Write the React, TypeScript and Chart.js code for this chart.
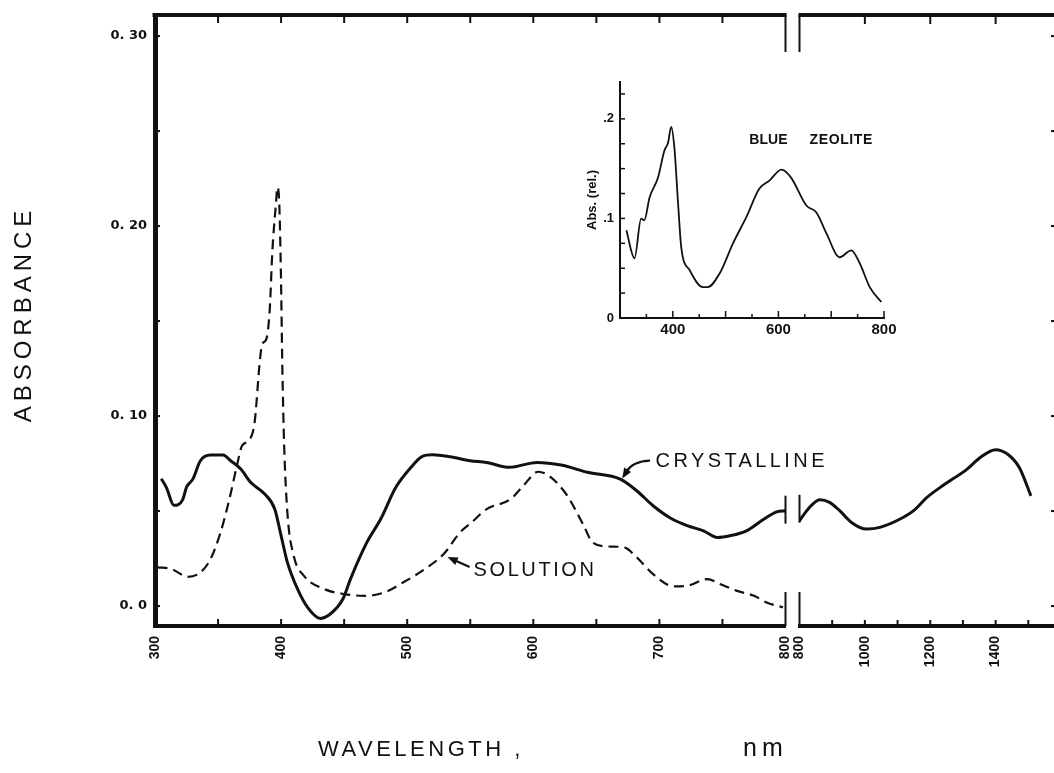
import React, { useEffect, useRef } from 'react';
import { Chart, registerables } from 'chart.js';

Chart.register(...registerables);

const INK = '#111111';

// ---------------- data ----------------
// Crystalline sample, visible part (nm / absorbance)
const CRYSTAL_VIS_NM = [305, 309, 315, 322, 325, 330, 336, 344, 354, 360, 368, 376, 387, 395, 400, 405, 413, 421, 431, 439, 449, 455, 468, 479, 491, 503, 512, 520, 534, 550, 563, 581, 603, 622, 643, 669, 682, 695, 709, 722, 735, 746, 756, 769, 783, 793, 800];
const CRYSTAL_VIS_ABS = [0.067, 0.0625, 0.053, 0.056, 0.0626, 0.0668, 0.0765, 0.0795, 0.0795, 0.0765, 0.0721, 0.065, 0.059, 0.051, 0.037, 0.023, 0.009, -0.0007, -0.0065, -0.0042, 0.0037, 0.0142, 0.0335, 0.0458, 0.0625, 0.073, 0.0788, 0.0796, 0.0786, 0.0765, 0.0756, 0.073, 0.0756, 0.0742, 0.0704, 0.0668, 0.0607, 0.0528, 0.0462, 0.0423, 0.0396, 0.0361, 0.037, 0.0396, 0.0458, 0.0496, 0.0502];

// Crystalline sample, near-IR part
const CRYSTAL_NIR_NM = [800, 826, 862, 892, 923, 959, 1005, 1046, 1108, 1149, 1190, 1241, 1313, 1354, 1400, 1436, 1472, 1508];
const CRYSTAL_NIR_ABS = [0.0449, 0.051, 0.056, 0.0546, 0.0502, 0.044, 0.0405, 0.0414, 0.0458, 0.0502, 0.0572, 0.0637, 0.0721, 0.0783, 0.0823, 0.08, 0.073, 0.058];

// Solution spectrum
const SOLUTION_NM = [302, 313, 326, 336, 344, 352, 359, 365, 369, 374, 379, 383, 385, 388, 391, 393, 396, 397, 398.4, 399.8, 401, 402.4, 405, 410, 418, 434, 450, 466, 482, 497, 516, 529, 542, 551, 563, 582, 592, 604, 614, 627, 640, 647, 658, 672, 682, 695, 711, 722, 738, 748, 761, 775, 785, 798];
const SOLUTION_ABS = [0.0204, 0.0195, 0.0154, 0.0177, 0.0247, 0.0388, 0.0563, 0.074, 0.0844, 0.087, 0.0967, 0.128, 0.138, 0.14, 0.156, 0.186, 0.2125, 0.2204, 0.214, 0.177, 0.125, 0.085, 0.049, 0.0265, 0.016, 0.009, 0.0063, 0.0054, 0.0072, 0.0125, 0.0204, 0.0274, 0.0388, 0.044, 0.051, 0.0563, 0.0633, 0.0707, 0.0677, 0.058, 0.0423, 0.0335, 0.0314, 0.0309, 0.0256, 0.0168, 0.0104, 0.0107, 0.0142, 0.0116, 0.0081, 0.0054, 0.0019, -0.0007];

// Inset: blue zeolite (relative absorbance)
const INSET_NM = [312, 327.5, 340, 346, 356, 372, 384, 391, 397, 403, 410, 416, 432, 457, 466, 489, 514, 539, 564, 583, 606, 624, 653, 672, 691, 716, 738, 754, 773, 795];
const INSET_ABS = [0.088, 0.06, 0.0997, 0.098, 0.121, 0.141, 0.168, 0.176, 0.192, 0.171, 0.115, 0.071, 0.048, 0.031, 0.031, 0.045, 0.075, 0.101, 0.13, 0.138, 0.149, 0.141, 0.113, 0.106, 0.085, 0.061, 0.068, 0.055, 0.031, 0.016];

// ---------------- ticks ----------------
const X_VIS_TICKS = [300, 350, 400, 450, 500, 550, 600, 650, 700, 750, 800];
const X_VIS_LABELED = [300, 400, 500, 600, 700, 800];
const X_NIR_TICKS = [800, 900, 1000, 1100, 1200, 1300, 1400, 1500, 1600];
const X_NIR_LABELED = [800, 1000, 1200, 1400, 1600];
const X_NIR_TOP_TICKS = [1000, 1200, 1400];
const Y_TICKS = [0, 0.05, 0.1, 0.15, 0.2, 0.25, 0.3];
const Y_LABELED = [0, 0.1, 0.2, 0.3];
const Y_LABELS = ['0. 0', '0. 10', '0. 20', '0. 30'];

const INSET_X_TICKS = [300, 350, 400, 450, 500, 550, 600, 650, 700, 750, 800];
const INSET_X_LABELED = [400, 600, 800];
const INSET_Y_TICKS = [0, 0.025, 0.05, 0.075, 0.1, 0.125, 0.15, 0.175, 0.2, 0.225];
const INSET_Y_LABELED = [0, 0.1, 0.2];
const INSET_Y_LABELS = ['0', '.1', '.2'];

// ---------------- helpers ----------------
const near = (a: number, b: number) => Math.abs(a - b) < 1e-6;
const toPoints = (xs: number[], ys: number[]) => xs.map((x, i) => ({ x, y: ys[i] }));

function seg(ctx: CanvasRenderingContext2D, x1: number, y1: number, x2: number, y2: number) {
  ctx.beginPath();
  ctx.moveTo(x1, y1);
  ctx.lineTo(x2, y2);
  ctx.stroke();
}

function setSpacing(ctx: CanvasRenderingContext2D, px: number) {
  const c = ctx as any;
  if ('letterSpacing' in c) c.letterSpacing = `${px}px`;
}

function arrow(ctx: CanvasRenderingContext2D, x0: number, y0: number, cx: number, cy: number, x1: number, y1: number, head: number) {
  const ang = Math.atan2(y1 - cy, x1 - cx);
  const ex = x1 - Math.cos(ang) * head * 0.7;
  const ey = y1 - Math.sin(ang) * head * 0.7;
  ctx.beginPath();
  ctx.moveTo(x0, y0);
  ctx.quadraticCurveTo(cx, cy, ex, ey);
  ctx.stroke();
  ctx.beginPath();
  ctx.moveTo(x1, y1);
  ctx.lineTo(x1 - head * Math.cos(ang - 0.38), y1 - head * Math.sin(ang - 0.38));
  ctx.lineTo(x1 - head * Math.cos(ang + 0.38), y1 - head * Math.sin(ang + 0.38));
  ctx.closePath();
  ctx.fill();
}

// annotation anchors in data units (nm, absorbance)
const CRYSTAL_NOTE = { text: 'CRYSTALLINE', nm: 697, abs: 0.0732 };
const CRYSTAL_ARROW = { tail: [692.5, 0.0765], ctrl: [679, 0.0762], tip: [670.5, 0.0672] };
const SOLUTION_NOTE = { text: 'SOLUTION', nm: 552.6, abs: 0.0158 };
const SOLUTION_ARROW = { tail: [549.5, 0.0205], tip: [532, 0.0258] };

const mainDecor = {
  id: 'mainDecor',
  afterDraw(chart: any) {
    const { ctx, chartArea } = chart;
    const xv = chart.scales.x;
    const xn = chart.scales.x2;
    const y = chart.scales.y;
    const top = chartArea.top;
    const bottom = chartArea.bottom;
    ctx.save();
    ctx.strokeStyle = INK;
    ctx.fillStyle = INK;
    ctx.lineCap = 'butt';

    // top frame (broken) and right frame
    ctx.lineWidth = 4;
    seg(ctx, xv.left - 2.5, top, xv.right + 1, top);
    seg(ctx, xn.left - 1, top, xn.right + 2, top);
    seg(ctx, xn.right, top - 2, xn.right, bottom + 2);

    // axis-break bars
    ctx.lineWidth = 2;
    seg(ctx, xv.right, top, xv.right, top + 37);
    seg(ctx, xn.left, top, xn.left, top + 37);
    seg(ctx, xv.right, bottom - 34, xv.right, bottom);
    seg(ctx, xn.left, bottom - 34, xn.left, bottom);

    // inward ticks
    ctx.lineWidth = 2;
    for (const v of X_VIS_TICKS) {
      if (v === 300 || v === 800) continue;
      const px = xv.getPixelForValue(v);
      seg(ctx, px, bottom, px, bottom - 7);
      seg(ctx, px, top, px, top + 8);
    }
    for (const v of X_NIR_TICKS) {
      if (v === 800 || v === 1600) continue;
      const px = xn.getPixelForValue(v);
      seg(ctx, px, bottom, px, bottom - 6);
    }
    for (const v of X_NIR_TOP_TICKS) {
      const px = xn.getPixelForValue(v);
      seg(ctx, px, top, px, top + 9);
    }
    for (const v of Y_TICKS) {
      const py = y.getPixelForValue(v);
      seg(ctx, chartArea.left, py, chartArea.left + 5, py);
      seg(ctx, xn.right, py, xn.right - 10, py);
    }

    // curve break markers
    const li = CRYSTAL_VIS_NM.length - 1;
    const lx = xv.getPixelForValue(CRYSTAL_VIS_NM[li]);
    const ly = y.getPixelForValue(CRYSTAL_VIS_ABS[li]);
    seg(ctx, lx, ly - 15, lx, ly + 13);
    const rx = xn.getPixelForValue(CRYSTAL_NIR_NM[0]);
    const ry = y.getPixelForValue(CRYSTAL_NIR_ABS[0]);
    seg(ctx, rx, ry - 26, rx, ry + 2);

    // annotations
    ctx.font = '20px "Liberation Sans"';
    ctx.textAlign = 'left';
    ctx.textBaseline = 'alphabetic';
    setSpacing(ctx, 3.4);
    ctx.fillText(CRYSTAL_NOTE.text, xv.getPixelForValue(CRYSTAL_NOTE.nm), y.getPixelForValue(CRYSTAL_NOTE.abs));
    setSpacing(ctx, 2.6);
    ctx.fillText(SOLUTION_NOTE.text, xv.getPixelForValue(SOLUTION_NOTE.nm), y.getPixelForValue(SOLUTION_NOTE.abs));
    setSpacing(ctx, 0);
    ctx.lineWidth = 2.2;
    const P = (p: number[]) => [xv.getPixelForValue(p[0]), y.getPixelForValue(p[1])];
    const [ax0, ay0] = P(CRYSTAL_ARROW.tail);
    const [acx, acy] = P(CRYSTAL_ARROW.ctrl);
    const [ax1, ay1] = P(CRYSTAL_ARROW.tip);
    arrow(ctx, ax0, ay0, acx, acy, ax1, ay1, 11);
    const [bx0, by0] = P(SOLUTION_ARROW.tail);
    const [bx1, by1] = P(SOLUTION_ARROW.tip);
    arrow(ctx, bx0, by0, (bx0 + bx1) / 2, (by0 + by1) / 2, bx1, by1, 11);

    // axis titles
    ctx.save();
    ctx.translate(24, (top + bottom) / 2 - 4);
    ctx.rotate(-Math.PI / 2);
    ctx.font = '24px "Liberation Sans"';
    ctx.textAlign = 'center';
    ctx.textBaseline = 'middle';
    setSpacing(ctx, 5);
    ctx.fillText('ABSORBANCE', 2.5, 0);
    ctx.restore();

    ctx.font = '22px "Liberation Sans"';
    ctx.textAlign = 'left';
    ctx.textBaseline = 'alphabetic';
    setSpacing(ctx, 3.5);
    ctx.fillText('WAVELENGTH ,', 318, 756);
    ctx.font = '25px "Liberation Sans"';
    setSpacing(ctx, 5);
    ctx.fillText('nm', 743, 756);
    setSpacing(ctx, 0);
    ctx.restore();
  },
};

const insetDecor = {
  id: 'insetDecor',
  afterDraw(chart: any) {
    const { ctx, chartArea } = chart;
    const xs = chart.scales.x;
    const ys = chart.scales.y;
    ctx.save();
    ctx.strokeStyle = INK;
    ctx.fillStyle = INK;
    ctx.lineWidth = 1.5;
    for (const v of INSET_X_TICKS) {
      if (v === 300) continue;
      const px = xs.getPixelForValue(v);
      const len = v % 100 === 0 ? 7 : 4;
      seg(ctx, px, chartArea.bottom, px, chartArea.bottom - len);
    }
    for (const v of INSET_Y_TICKS) {
      if (v === 0) continue;
      const py = ys.getPixelForValue(v);
      seg(ctx, chartArea.left, py, chartArea.left + 5, py);
    }
    ctx.font = 'bold 14px "Liberation Sans"';
    ctx.textAlign = 'left';
    ctx.textBaseline = 'alphabetic';
    ctx.fillText('BLUE', xs.getPixelForValue(545), ys.getPixelForValue(0.175));
    setSpacing(ctx, 0.6);
    ctx.fillText('ZEOLITE', xs.getPixelForValue(659), ys.getPixelForValue(0.175));
    setSpacing(ctx, 0);
    ctx.restore();
  },
};

const tickFontX = { family: '"Liberation Sans", Arial, sans-serif', size: 14, weight: 'bold' as const };

// keep the wavelength axes from reserving extra side padding for their rotated labels
const fixBottomAxis = (s: any) => {
  s.height = 60;
  s.paddingLeft = 0;
  s.paddingRight = 0;
};

function mainConfig(): any {
  const xCommon = {
    type: 'linear',
    position: 'bottom',
    stack: 'wavelength',
    grid: { display: false, drawTicks: false },
    border: { display: true, width: 4, color: INK },
    afterFit: fixBottomAxis,
  };
  return {
    type: 'line',
    data: {
      datasets: [
        {
          label: 'Crystalline',
          data: toPoints(CRYSTAL_VIS_NM, CRYSTAL_VIS_ABS),
          xAxisID: 'x',
          yAxisID: 'y',
          borderColor: INK,
          borderWidth: 3,
          pointRadius: 0,
          fill: false,
          cubicInterpolationMode: 'monotone',
        },
        {
          label: 'Crystalline (near IR)',
          data: toPoints(CRYSTAL_NIR_NM, CRYSTAL_NIR_ABS),
          xAxisID: 'x2',
          yAxisID: 'y',
          borderColor: INK,
          borderWidth: 3,
          pointRadius: 0,
          fill: false,
          cubicInterpolationMode: 'monotone',
        },
        {
          label: 'Solution',
          data: toPoints(SOLUTION_NM, SOLUTION_ABS),
          xAxisID: 'x',
          yAxisID: 'y',
          borderColor: INK,
          borderWidth: 2.2,
          borderDash: [10, 6],
          pointRadius: 0,
          fill: false,
          cubicInterpolationMode: 'monotone',
        },
      ],
    },
    options: {
      responsive: false,
      animation: false,
      devicePixelRatio: 1,
      events: [],
      layout: { padding: { left: 0, top: 15, right: 14, bottom: 87 } },
      plugins: { legend: { display: false }, tooltip: { enabled: false }, title: { display: false } },
      scales: {
        x: {
          ...xCommon,
          stackWeight: 630.5,
          min: 300,
          max: 800,
          afterBuildTicks: (s: any) => {
            s.ticks = X_VIS_TICKS.map((v) => ({ value: v }));
          },
          ticks: {
            autoSkip: false,
            minRotation: 90,
            maxRotation: 90,
            padding: 10,
            color: INK,
            font: tickFontX,
            callback: (v: any) => (X_VIS_LABELED.some((t) => near(t, Number(v))) ? String(v) : ''),
          },
        },
        xgap: {
          type: 'linear',
          position: 'bottom',
          stack: 'wavelength',
          stackWeight: 14,
          min: 0,
          max: 1,
          grid: { display: false, drawTicks: false },
          border: { display: false },
          ticks: { display: false },
          afterFit: fixBottomAxis,
        },
        x2: {
          ...xCommon,
          stackWeight: 261.5,
          min: 800,
          max: 1600,
          afterBuildTicks: (s: any) => {
            s.ticks = X_NIR_TICKS.map((v) => ({ value: v }));
          },
          ticks: {
            autoSkip: false,
            minRotation: 90,
            maxRotation: 90,
            padding: 10,
            color: INK,
            font: tickFontX,
            callback: (v: any) => (X_NIR_LABELED.some((t) => near(t, Number(v))) ? String(v) : ''),
          },
        },
        y: {
          type: 'linear',
          position: 'left',
          min: -0.0105,
          max: 0.3111,
          grid: { display: false, drawTicks: false },
          border: { display: true, width: 5, color: INK },
          afterBuildTicks: (s: any) => {
            s.ticks = Y_TICKS.map((v) => ({ value: v }));
          },
          afterFit: (s: any) => {
            s.width = 155;
            s.paddingTop = 0;
            s.paddingBottom = 0;
          },
          ticks: {
            autoSkip: false,
            padding: 8,
            color: INK,
            font: { family: '"DejaVu Sans", sans-serif', size: 13, weight: 'bold' },
            callback: (v: any) => {
              const i = Y_LABELED.findIndex((t) => near(t, Number(v)));
              return i >= 0 ? Y_LABELS[i] : '';
            },
          },
        },
      },
    },
    plugins: [mainDecor],
  };
}

function insetConfig(): any {
  return {
    type: 'line',
    data: {
      datasets: [
        {
          label: 'Blue zeolite',
          data: toPoints(INSET_NM, INSET_ABS),
          borderColor: INK,
          borderWidth: 1.8,
          pointRadius: 0,
          fill: false,
          cubicInterpolationMode: 'monotone',
        },
      ],
    },
    options: {
      responsive: false,
      animation: false,
      devicePixelRatio: 1,
      events: [],
      layout: { padding: { left: 0, top: 12, right: 16, bottom: 10 } },
      plugins: { legend: { display: false }, tooltip: { enabled: false } },
      scales: {
        x: {
          type: 'linear',
          min: 300,
          max: 800,
          grid: { display: false, drawTicks: false },
          border: { display: true, width: 2, color: INK },
          afterBuildTicks: (s: any) => {
            s.ticks = INSET_X_TICKS.map((v) => ({ value: v }));
          },
          afterFit: (s: any) => {
            s.height = 22;
            s.paddingLeft = 0;
            s.paddingRight = 0;
          },
          ticks: {
            autoSkip: false,
            maxRotation: 0,
            minRotation: 0,
            padding: 3,
            color: INK,
            font: { family: '"Liberation Sans", Arial, sans-serif', size: 15, weight: 'bold' },
            callback: (v: any) => (INSET_X_LABELED.some((t) => near(t, Number(v))) ? String(v) : ''),
          },
        },
        y: {
          type: 'linear',
          min: 0,
          max: 0.237,
          grid: { display: false, drawTicks: false },
          border: { display: true, width: 2, color: INK },
          afterBuildTicks: (s: any) => {
            s.ticks = INSET_Y_TICKS.map((v) => ({ value: v }));
          },
          afterFit: (s: any) => {
            s.width = 61;
            s.paddingTop = 0;
            s.paddingBottom = 0;
          },
          title: {
            display: true,
            text: 'Abs. (rel.)',
            color: INK,
            padding: { top: 26, bottom: 0 },
            font: { family: '"Liberation Sans", Arial, sans-serif', size: 13, weight: 'bold' },
          },
          ticks: {
            autoSkip: false,
            padding: 6,
            color: INK,
            font: { family: '"Liberation Sans", Arial, sans-serif', size: 13, weight: 'bold' },
            callback: (v: any) => {
              const i = INSET_Y_LABELED.findIndex((t) => near(t, Number(v)));
              return i >= 0 ? INSET_Y_LABELS[i] : '';
            },
          },
        },
      },
    },
    plugins: [insetDecor],
  };
}

export default function App() {
  const mainRef = useRef<HTMLCanvasElement>(null);
  const insetRef = useRef<HTMLCanvasElement>(null);

  useEffect(() => {
    if (!mainRef.current || !insetRef.current) return;
    const main = new Chart(mainRef.current, mainConfig());
    const inset = new Chart(insetRef.current, insetConfig());
    return () => {
      main.destroy();
      inset.destroy();
    };
  }, []);

  return (
    <div
      style={{
        position: 'fixed',
        left: 0,
        top: 0,
        width: 1054,
        height: 773,
        overflow: 'hidden',
        background: '#ffffff',
      }}
    >
      <canvas ref={mainRef} width={1075} height={773} style={{ position: 'absolute', left: 0, top: 0 }} />
      <canvas ref={insetRef} width={341} height={280} style={{ position: 'absolute', left: 559, top: 70 }} />
    </div>
  );
}
